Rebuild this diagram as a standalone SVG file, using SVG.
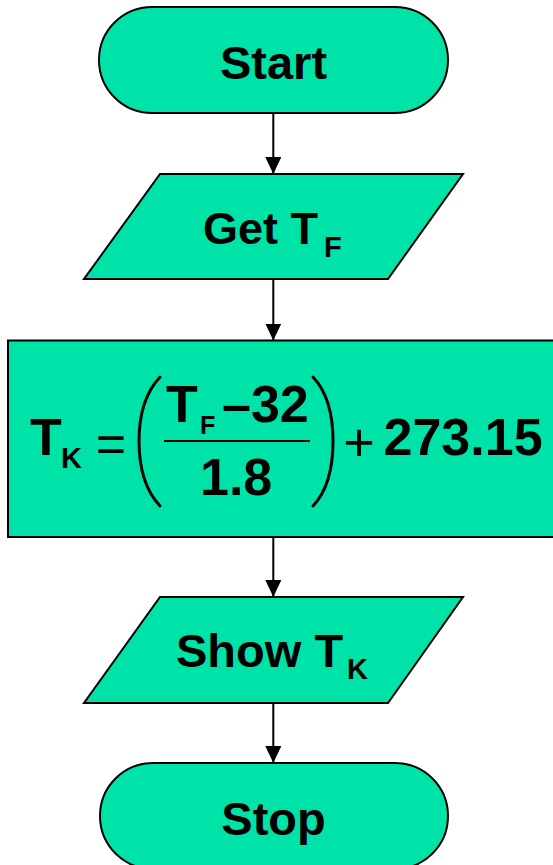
<svg xmlns="http://www.w3.org/2000/svg" width="553" height="865" viewBox="0 0 553 865">
  <style>
    .shape { fill: #00E3A8; stroke: #000; stroke-width: 2; }
    .lbl { font-family: "Liberation Sans", Arial, sans-serif; font-weight: bold; fill: #000; }
    .sym { font-family: "Liberation Sans", Arial, sans-serif; font-weight: normal; fill: #000; }
    .conn { stroke: #000; stroke-width: 2; fill: none; marker-end: url(#arrow); }
    .delim { stroke: #000; stroke-width: 3; fill: none; stroke-linecap: round; }
  </style>
  <defs>
    <marker id="arrow" markerUnits="userSpaceOnUse" markerWidth="17" markerHeight="16" refX="17" refY="8" orient="auto">
      <path d="M0,0 L17,8 L0,16 Z" fill="#000"/>
    </marker>
  </defs>
  <rect width="553" height="865" fill="#fff"/>

  <g id="connectors">
    <line class="conn" x1="273.3" y1="113" x2="273.3" y2="174"/>
    <line class="conn" x1="273.3" y1="279" x2="273.3" y2="340.5"/>
    <line class="conn" x1="273.3" y1="537" x2="273.3" y2="597"/>
    <line class="conn" x1="273.3" y1="703" x2="273.3" y2="763"/>
  </g>

  <g id="start">
    <rect class="shape" x="99" y="7" width="349" height="106" rx="53" ry="53"/>
    <text class="lbl" x="273.5" y="79" font-size="47" text-anchor="middle">Start</text>
  </g>

  <g id="get">
    <polygon class="shape" points="160,174 463,174 388,279 84,279"/>
    <text class="lbl" font-size="45"><tspan x="203" y="244">Get T</tspan><tspan x="324" y="257" font-size="29">F</tspan></text>
  </g>

  <g id="compute">
    <rect class="shape" x="8" y="340.5" width="550" height="196.5"/>
    <text class="lbl" font-size="52"><tspan x="30" y="455">T</tspan><tspan x="61" y="468" font-size="29">K</tspan></text>
    <text class="sym" x="111" y="462" font-size="52" text-anchor="middle">=</text>
    <path class="delim" d="M160,377 C145,393 139,415 139,441 C139,467 145,490 160,506"/>
    <text class="lbl" font-size="52"><tspan x="166" y="422">T</tspan><tspan x="200" y="434" font-size="25">F</tspan><tspan x="222" y="422">–32</tspan></text>
    <line x1="164" y1="441" x2="310" y2="441" stroke="#000" stroke-width="2"/>
    <text class="lbl" x="200" y="495" font-size="52">1.8</text>
    <path class="delim" d="M313,377 C328,393 333,415 333,441 C333,467 328,490 313,506"/>
    <text class="sym" x="359" y="461" font-size="54" text-anchor="middle">+</text>
    <text class="lbl" x="383.5" y="455" font-size="52">273.15</text>
  </g>

  <g id="show">
    <polygon class="shape" points="160,597 463,597 388,703 84,703"/>
    <text class="lbl" font-size="47"><tspan x="176" y="667">Show T</tspan><tspan x="347" y="679" font-size="29">K</tspan></text>
  </g>

  <g id="stop">
    <rect class="shape" x="100" y="763" width="348" height="106" rx="53" ry="53"/>
    <text class="lbl" x="273.5" y="835" font-size="47" text-anchor="middle">Stop</text>
  </g>
</svg>
